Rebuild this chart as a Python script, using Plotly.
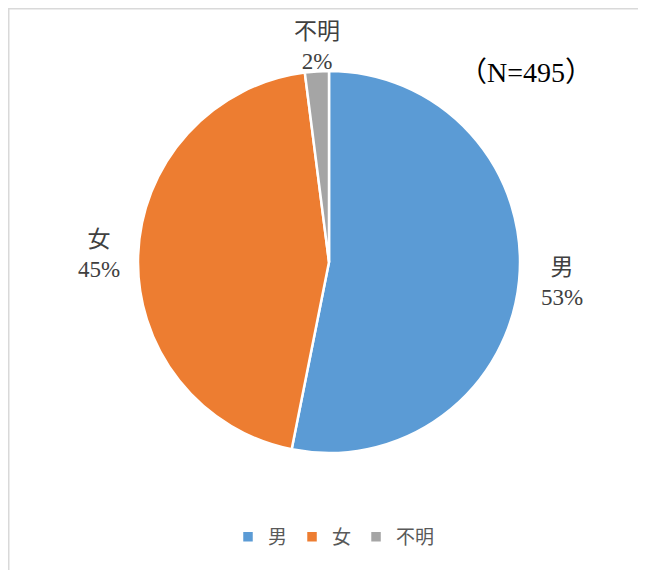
import math
import plotly.graph_objects as go

labels = ["男", "女", "不明"]
counts = [263, 222, 10]
colors = ["#5B9BD5", "#ED7D31", "#A5A5A5"]
note = "（N=495）"

W, H = 646, 570
OFF = 8  # page body margin offset
cx, cy, r = 329 - OFF, 262 - OFF, 191

serif = "Times New Roman, Liberation Serif, Noto Sans CJK JP, serif"

fig = go.Figure(go.Pie(
    labels=labels,
    values=counts,
    sort=False,
    direction="clockwise",
    rotation=0,
    marker=dict(colors=colors, line=dict(color="white", width=2.5)),
    textinfo="none",
    hoverinfo="label+percent",
    domain=dict(x=[(cx - r) / W, (cx + r) / W], y=[1 - (cy + r) / H, 1 - (cy - r) / H]),
    showlegend=True,
))

# data labels placed outside each slice at its mid-angle
total = sum(counts)
annotations = []
cum = 0
for lab, v in zip(labels, counts):
    mid = (cum + v / 2) / total * 2 * math.pi
    cum += v
    s, c = math.sin(mid), math.cos(mid)
    if s > 0.5:
        xa, ya, d = "left", "middle", r + 20
    elif s < -0.5:
        xa, ya, d = "right", "middle", r + 16
    else:
        xa, ya, d = "center", ("bottom" if c > 0 else "top"), r - 5
    px = cx + d * s
    py = cy - d * c
    annotations.append(dict(
        text=f"{lab}<br>{round(100 * v / total)}%",
        x=px / W, y=1 - py / H, xref="paper", yref="paper",
        showarrow=False, xanchor=xa, yanchor=ya, align="center",
        font=dict(size=23, color="#404040", family=serif),
    ))

annotations.append(dict(
    text=note, x=(526 - OFF) / W, y=1 - (72 - OFF) / H, xref="paper", yref="paper",
    showarrow=False, xanchor="center", yanchor="middle",
    font=dict(size=28, color="#000000", family=serif),
))

fig.update_layout(
    width=W, height=H,
    margin=dict(l=0, r=0, t=0, b=0),
    paper_bgcolor="white",
    legend=dict(
        orientation="h", x=(334 - OFF) / W, xanchor="center", y=1 - (537 - OFF) / H, yanchor="middle",
        font=dict(size=19, color="#595959", family="Noto Sans CJK JP"),
        itemwidth=30, traceorder="normal",
    ),
    annotations=annotations,
    shapes=[dict(
        type="rect", xref="paper", yref="paper",
        x0=0.5 / W, x1=1.05, y0=-0.05, y1=1 - 0.5 / H,
        line=dict(color="#D9D9D9", width=2),
    )],
)

fig.write_html("out.html")
